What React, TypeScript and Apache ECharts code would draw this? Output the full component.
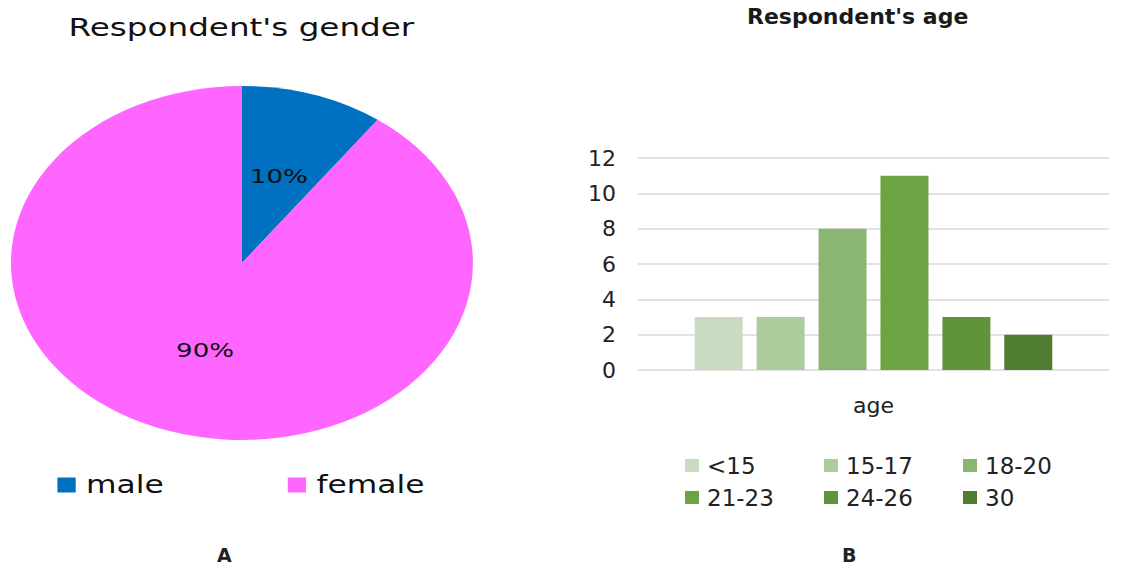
import React, { useEffect, useRef } from "react";
import * as echarts from "echarts";

// ---- data ----
const genderNames = ["male", "female"];
const genderValues = [10, 90];
const genderColors = ["#0070C0", "#FF66FF"];

const ageCategories = ["age"];
const ageGroups = ["<15", "15-17", "18-20", "21-23", "24-26", "30"];
const ageCounts = [3, 3, 8, 11, 3, 2];
const ageColors = ["#C9DBC0", "#ADCB9C", "#8AB671", "#6CA444", "#5F943A", "#507D32"];

const yMin = 0;
const yMax = 12;
const yInterval = 2;

const FONT = "DejaVu Sans";

export default function App() {
  const leftRef = useRef<HTMLDivElement>(null);
  const rightRef = useRef<HTMLDivElement>(null);

  useEffect(() => {
    const left = echarts.init(leftRef.current!, null, { renderer: "svg" });
    const right = echarts.init(rightRef.current!, null, { renderer: "svg" });

    left.setOption({
      animation: false,
      textStyle: { fontFamily: FONT },
      title: {
        text: "Respondent's gender",
        left: "center",
        top: 10,
        textStyle: { fontFamily: FONT, fontSize: 25, fontWeight: "normal", color: "#111" },
      },
      legend: {
        data: genderNames,
        left: 44,
        top: 473,
        padding: 0,
        icon: "rect",
        itemWidth: 14,
        itemHeight: 15,
        itemGap: 95,
        textStyle: { fontFamily: FONT, fontSize: 24, color: "#111", padding: [0, 0, 0, 3] },
      },
      series: [
        {
          type: "pie",
          center: [185.4, 263],
          radius: 177,
          startAngle: 90,
          clockwise: true,
          data: genderNames.map((n, i) => ({
            name: n,
            value: genderValues[i],
            itemStyle: { color: genderColors[i] },
          })),
          label: {
            show: true,
            position: "inside",
            formatter: "{d}%",
            fontFamily: FONT,
            fontSize: 20,
            color: "#111",
            textBorderWidth: 0,
          },
          labelLine: { show: false },
          emphasis: { disabled: true },
        },
      ],
    });

    const legends = ageGroups.map((g, i) => ({
      data: [g],
      left: 685 + (i % 3) * 139,
      top: 454 + Math.floor(i / 3) * 32,
      padding: 0,
      icon: "rect",
      itemWidth: 14,
      itemHeight: 13,
      textStyle: { fontFamily: FONT, fontSize: 23, color: "#222", padding: [0, 0, 0, 3] },
    }));

    right.setOption({
      animation: false,
      textStyle: { fontFamily: FONT },
      title: {
        text: "Respondent's age",
        left: 747,
        top: 5,
        padding: 0,
        textStyle: { fontFamily: FONT, fontSize: 22, fontWeight: "bold", color: "#1a1a1a" },
      },
      legend: legends,
      grid: { left: 638, right: 12, top: 158, bottom: 196 },
      xAxis: {
        type: "category",
        data: ageCategories,
        axisLine: { show: false },
        axisTick: { show: false },
        axisLabel: { fontFamily: FONT, fontSize: 22, color: "#222", margin: 24 },
      },
      yAxis: {
        type: "value",
        min: yMin,
        max: yMax,
        interval: yInterval,
        axisLine: { show: false },
        axisTick: { show: false },
        axisLabel: { fontFamily: FONT, fontSize: 22, color: "#222", margin: 22 },
        splitLine: { lineStyle: { color: "#D9D9D9", width: 1.5 } },
      },
      series: ageGroups.map((g, i) => ({
        type: "bar",
        name: g,
        data: [ageCounts[i]],
        barWidth: 48,
        barGap: "29%",
        itemStyle: { color: ageColors[i] },
        emphasis: { disabled: true },
      })),
      graphic: [
        {
          type: "text",
          left: 217,
          top: 545,
          style: { text: "A", font: `bold 19px "${FONT}"`, fill: "#222" },
        },
        {
          type: "text",
          left: 842,
          top: 545,
          style: { text: "B", font: `bold 19px "${FONT}"`, fill: "#222" },
        },
      ],
    });

    return () => {
      left.dispose();
      right.dispose();
    };
  }, []);

  return (
    <div style={{ position: "fixed", left: 0, top: 0, width: 1121, height: 566, background: "#fff" }}>
      <div ref={rightRef} style={{ position: "absolute", left: 0, top: 0, width: 1121, height: 566 }} />
      <div
        ref={leftRef}
        style={{
          position: "absolute",
          left: 0,
          top: 0,
          width: 370,
          height: 566,
          transform: "scaleX(1.305)",
          transformOrigin: "0 0",
        }}
      />
    </div>
  );
}
